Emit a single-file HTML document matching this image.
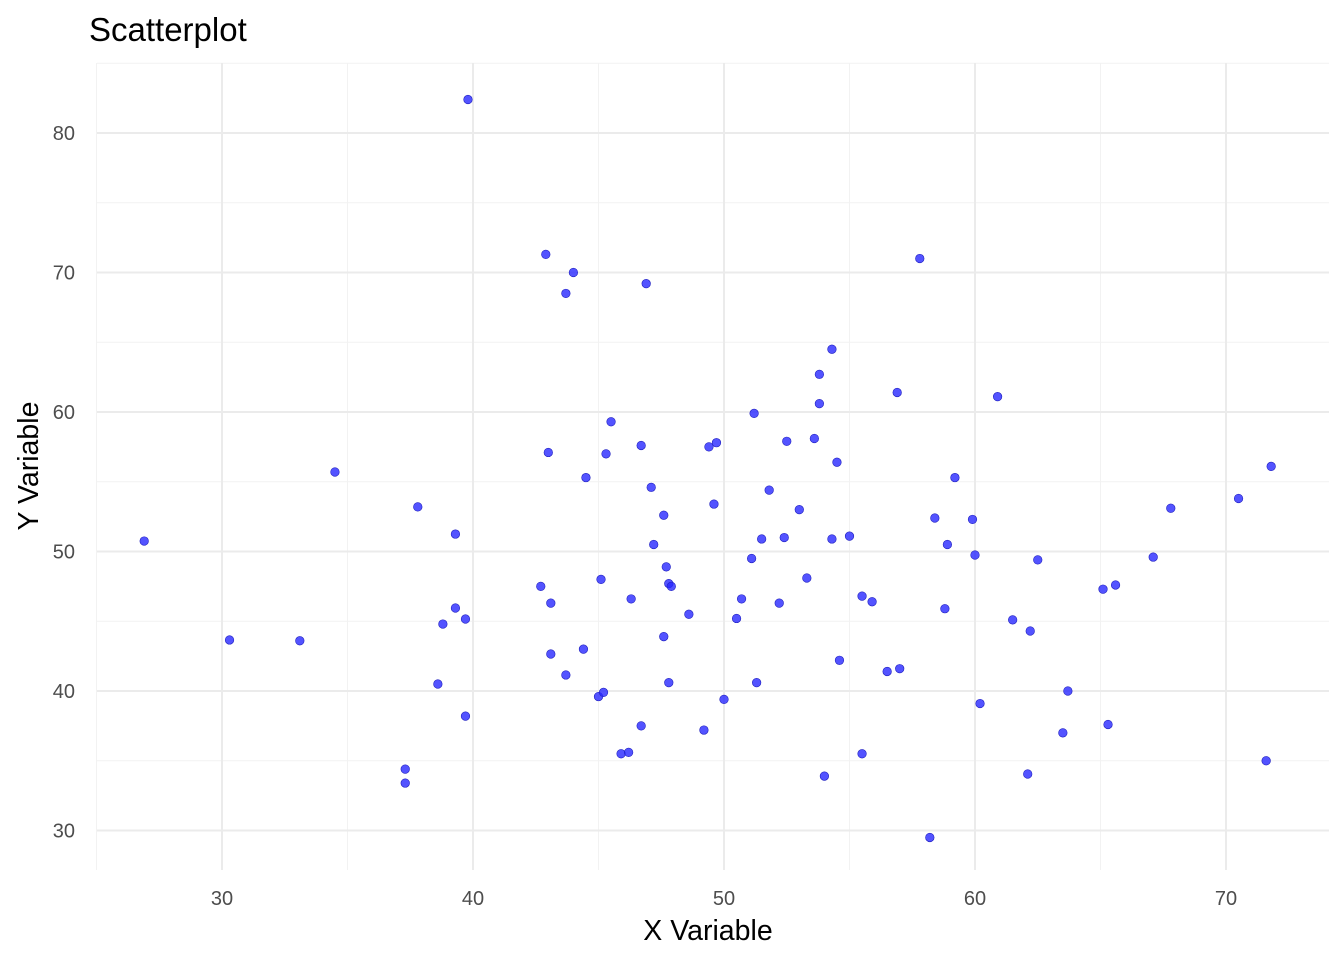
<!DOCTYPE html>
<html><head><meta charset="utf-8"><style>
body{margin:0;background:#fff;}
svg text{font-family:"Liberation Sans",sans-serif;}
</style></head><body>
<svg id="chart" width="1344" height="960" xmlns="http://www.w3.org/2000/svg">
<text x="89" y="41" style="font-size:33px" fill="#000">Scatterplot</text>
<g id="grid"></g>
<g id="ticks"></g>
<g id="points"></g>
<text x="708" y="940" style="font-size:28.5px" text-anchor="middle" fill="#000">X Variable</text>
<text transform="translate(38,466) rotate(-90)" style="font-size:28.5px" text-anchor="middle" fill="#000">Y Variable</text>
</svg>
<script>
const xTicks=[30,40,50,60,70];
const yTicks=[30,40,50,60,70,80];
const xMinor=[25,35,45,55,65];
const yMinor=[35,45,55,65,75,85];
const xs=[26.9,30.3,33.1,34.5,37.3,37.3,37.8,38.8,38.6,39.3,39.3,39.7,39.7,39.8,42.7,42.9,43.0,43.1,43.1,43.7,43.7,44.0,44.4,44.5,45.0,45.1,45.2,45.3,45.5,45.9,46.2,46.3,46.7,46.7,46.9,47.1,47.2,47.6,47.7,47.6,47.8,47.8,47.9,48.6,49.2,49.4,49.6,49.7,50.0,50.5,50.7,51.1,51.2,51.3,51.5,51.8,52.2,52.4,52.5,53.0,53.3,53.6,53.8,53.8,54.0,54.3,54.3,54.5,54.6,55.0,55.5,55.5,55.9,56.5,57.0,56.9,57.8,58.2,58.4,58.8,58.9,59.2,59.9,60.0,60.2,60.9,61.5,62.1,62.2,62.5,63.5,63.7,65.1,65.3,65.6,67.1,67.8,70.5,71.6,71.8];
const ys=[50.75,43.66,43.6,55.7,34.4,33.4,53.2,44.8,40.5,51.25,45.95,45.16,38.2,82.4,47.5,71.3,57.1,46.3,42.65,68.5,41.15,70.0,43.0,55.3,39.6,48.0,39.9,57.0,59.3,35.5,35.6,46.6,37.5,57.6,69.2,54.6,50.5,52.6,48.9,43.9,47.7,40.6,47.5,45.5,37.2,57.5,53.4,57.8,39.4,45.2,46.6,49.5,59.9,40.6,50.9,54.4,46.3,51.0,57.9,53.0,48.1,58.1,62.7,60.6,33.9,64.5,50.9,56.4,42.2,51.1,46.8,35.5,46.4,41.4,41.6,61.4,71.0,29.5,52.4,45.9,50.5,55.3,52.3,49.75,39.1,61.1,45.1,34.05,44.3,49.4,37.0,40.0,47.3,37.6,47.6,49.6,53.1,53.8,35.0,56.1];
const X0=97,X1=1329,Y0=63,Y1=870;
const sx=v=>222+(v-30)*25.1;
const sy=v=>133+(80-v)*13.95;
const NS="http://www.w3.org/2000/svg";
function mk(tag,attrs,parent){const e=document.createElementNS(NS,tag);for(const k in attrs)e.setAttribute(k,attrs[k]);parent.appendChild(e);return e;}
const grid=document.getElementById('grid'),ticks=document.getElementById('ticks'),pts=document.getElementById('points');
xMinor.forEach(v=>{const l=mk('line',{x1:sx(v),x2:sx(v),y1:Y0,y2:Y1,stroke:'#f2f2f2','stroke-width':1},grid);

});
yMinor.forEach(v=>{const l=mk('line',{x1:X0,x2:X1,y1:sy(v),y2:sy(v),stroke:'#f2f2f2','stroke-width':1},grid);

});
xTicks.forEach(v=>{const l=mk('line',{x1:sx(v),x2:sx(v),y1:Y0,y2:Y1,stroke:'#ebebeb','stroke-width':2},grid);


const t=mk('text',{x:sx(v),y:905,style:'font-size:20px','text-anchor':'middle',fill:'#4d4d4d'},ticks);t.textContent=v;

});
yTicks.forEach(v=>{const l=mk('line',{x1:X0,x2:X1,y1:sy(v),y2:sy(v),stroke:'#ebebeb','stroke-width':2},grid);


const t=mk('text',{x:75,y:sy(v)+7,style:'font-size:20px','text-anchor':'end',fill:'#4d4d4d'},ticks);t.textContent=v;

});
xs.forEach((v,i)=>{const c=mk('circle',{cx:sx(v),cy:sy(ys[i]),r:4.3,fill:'rgba(40,40,255,0.8)',stroke:'#2020c0','stroke-width':0.6},pts);

});
</script>
</body></html>
